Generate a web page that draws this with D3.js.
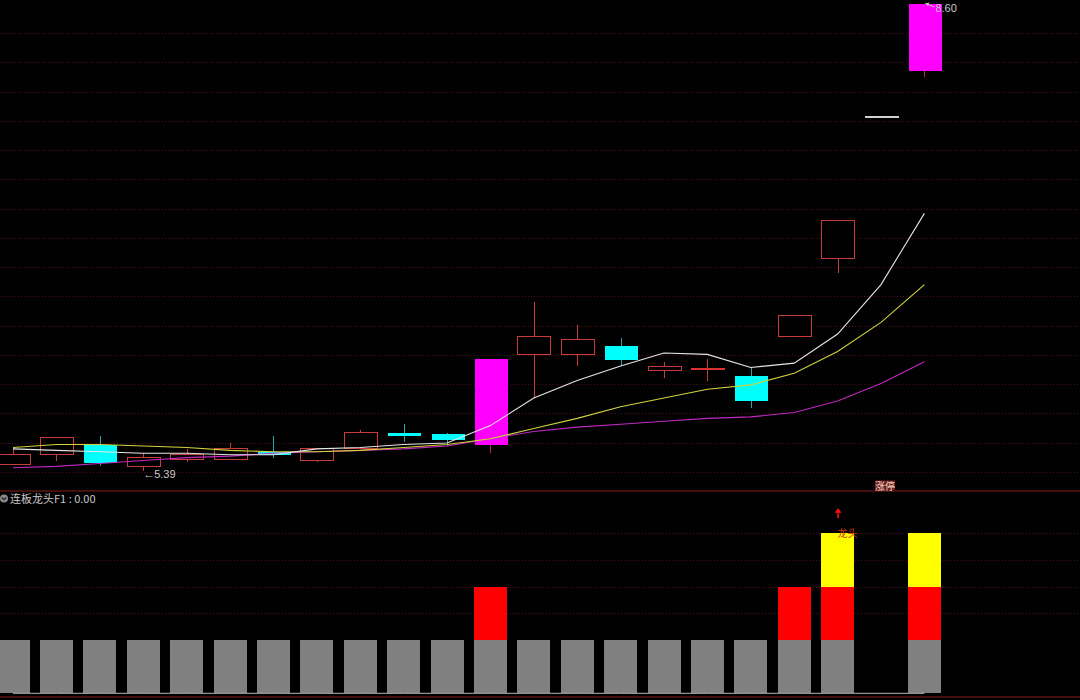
<!DOCTYPE html>
<html>
<head>
<meta charset="utf-8">
<script src="https://cdn.jsdelivr.net/npm/d3@7"></script>
<style>
  body{margin:0;background:#000;}
  text{font-family:"Liberation Sans","DejaVu Sans",sans-serif;}
  .cn{font-family:"Noto Sans CJK SC","Noto Sans",sans-serif;}
</style>
</head>
<body>
<div class="content"></div>
<script>
const SVGWIDTH = 1080;
const SVGHEIGHT = 700;

// trading days shown on screen
const days = [0,1,2,3,4,5,6,7,8,9,10,11,12,13,14,15,16,17,18,19,20,21];
const opens  = [5.43,5.50,5.57,5.42,5.47,5.47,5.52,5.46,5.54,5.65,5.64,5.57,6.19,6.19,6.25,6.08,6.09,6.04,6.31,6.85,7.82,8.14];
const highs  = [5.55,5.62,5.63,5.51,5.54,5.58,5.63,5.54,5.67,5.71,5.65,6.16,6.55,6.39,6.30,6.14,6.16,6.10,6.46,7.11,7.82,8.60];
const lows   = [5.43,5.46,5.42,5.39,5.45,5.47,5.48,5.45,5.54,5.59,5.56,5.51,5.89,6.11,6.11,6.03,6.01,5.82,6.31,6.75,7.82,8.10];
const closes = [5.50,5.62,5.44,5.48,5.50,5.54,5.50,5.54,5.65,5.63,5.60,6.16,6.31,6.29,6.15,6.11,6.09,5.87,6.46,7.11,7.82,8.60];

// moving averages
const ma5  = [5.54,5.53,5.52,5.51,5.51,5.50,5.50,5.54,5.55,5.57,5.58,5.70,5.89,6.01,6.11,6.20,6.19,6.10,6.13,6.33,6.67,7.16];
const ma10 = [5.55,5.57,5.57,5.56,5.55,5.53,5.52,5.52,5.53,5.55,5.57,5.61,5.68,5.75,5.83,5.89,5.95,5.98,6.06,6.21,6.41,6.67];
const ma20 = [5.41,5.42,5.44,5.46,5.48,5.49,5.51,5.52,5.53,5.54,5.56,5.61,5.66,5.69,5.71,5.73,5.75,5.76,5.79,5.87,5.99,6.14];

// lower indicator (stacked levels)
const baseBar   = [1,1,1,1,1,1,1,1,1,1,1,1,1,1,1,1,1,1,1,1,0,1];
const limitBar  = [0,0,0,0,0,0,0,0,0,0,0,1,0,0,0,0,0,0,1,1,0,1];
const dragonBar = [0,0,0,0,0,0,0,0,0,0,0,0,0,0,0,0,0,0,0,1,0,1];
const f1Line    = [0,0,0,0,0,0,0,0,0,0,0,0,0,0,0,0,0,0,0,0,0,0];

const highLabel = "8.60";
const lowLabel = "5.39";
const legendText = "连板龙头F1 : 0.00";
const dragonText = "龙头";
const limitText = "涨停";
const dragonDay = 19;
const limitTagDay = 20;

let svg = d3.select(".content").append("svg")
    .attr("width",SVGWIDTH).attr("height",SVGHEIGHT).attr("id","kline")
    .style("background","#000").style("display","block");

//scales
let xscale = d3.scalePoint().domain(days).range([13,924.4]);
let barW = 33;
let yscale = d3.scaleLinear().domain([5.39,8.60]).range([470.7,4]);
let ylow = d3.scaleLinear().domain([0,3]).range([693.3,533.3]);
let gridScale = d3.scaleLinear().domain([0,15]).range([33,472]);

//grid lines main panel
svg.append("g").selectAll("line")
    .data(d3.range(16))
    .join("line")
    .attr("x1",0).attr("x2",SVGWIDTH)
    .attr("y1",d=>Math.round(gridScale(d))+0.5).attr("y2",d=>Math.round(gridScale(d))+0.5)
    .attr("stroke","#4a1010").attr("stroke-dasharray","1,2");

//grid lines lower panel
svg.append("g").selectAll("line")
    .data([1.5,2,2.5,3])
    .join("line")
    .attr("x1",0).attr("x2",SVGWIDTH)
    .attr("y1",d=>Math.round(ylow(d))+0.5).attr("y2",d=>Math.round(ylow(d))+0.5)
    .attr("stroke","#4a1010").attr("stroke-dasharray","1,2");

//separator and bottom border
svg.append("line").attr("x1",0).attr("x2",SVGWIDTH).attr("y1",491).attr("y2",491)
    .attr("stroke","#5a1414").attr("stroke-width",1.5);
svg.append("line").attr("x1",0).attr("x2",SVGWIDTH).attr("y1",697).attr("y2",697)
    .attr("stroke","#5a1414").attr("stroke-width",1.5);

//candle type
function candleType(i){
    let o = opens[i], c = closes[i];
    if(i>0){
        let limit = Math.round(closes[i-1]*1.1*100)/100;
        if(c>=limit-0.005){
            if(o===c) return "flat";
            if((c-o)/o>0.05) return "big";
        }
    }
    if(c>=o) return "up";
    return "down";
}
let candles = days.map(i=>({i:i,o:opens[i],h:highs[i],l:lows[i],c:closes[i],type:candleType(i)}));
let wickColor = {up:"#c83c3c",down:"#20a8a8",big:"#b03050",flat:"#d0d0d0"};

let cg = svg.append("g").attr("id","candles").attr("shape-rendering","crispEdges");
let cand = cg.selectAll(".candle").data(candles).join("g").classed("candle",true);

//upper wick
cand.append("line")
    .attr("x1",d=>Math.round(xscale(d.i))+0.5).attr("x2",d=>Math.round(xscale(d.i))+0.5)
    .attr("y1",d=>yscale(d.h)).attr("y2",d=>yscale(Math.max(d.o,d.c)))
    .attr("stroke",d=>wickColor[d.type]);
//lower wick
cand.append("line")
    .attr("x1",d=>Math.round(xscale(d.i))+0.5).attr("x2",d=>Math.round(xscale(d.i))+0.5)
    .attr("y1",d=>yscale(Math.min(d.o,d.c))).attr("y2",d=>yscale(d.l))
    .attr("stroke",d=>wickColor[d.type]);
//bodies
cand.filter(d=>d.o!==d.c).append("rect")
    .attr("x",d=>Math.round(xscale(d.i)-barW/2)+0.5)
    .attr("y",d=>yscale(Math.max(d.o,d.c)))
    .attr("width",barW)
    .attr("height",d=>Math.abs(yscale(d.o)-yscale(d.c)))
    .attr("fill",d=>d.type==="up"?"#000":(d.type==="big"?"#ff00ff":"#00ffff"))
    .attr("stroke",d=>d.type==="up"?"#c83c3c":"none");
//open == close
cand.filter(d=>d.o===d.c).append("rect")
    .attr("x",d=>Math.round(xscale(d.i)-barW/2))
    .attr("y",d=>Math.round(yscale(d.c))-1)
    .attr("width",barW+1)
    .attr("height",2)
    .attr("fill",d=>d.type==="flat"?"#d0d0d0":"#d83232");

//moving averages
let maLine = d3.line().x((d,i)=>xscale(days[i])).y(d=>yscale(d));
[[ma20,"#c028c0"],[ma10,"#d2d23c"],[ma5,"#e6e6e6"]].forEach(m=>{
    svg.append("path").attr("d",maLine(m[0]))
        .attr("fill","none").attr("stroke",m[1]).attr("stroke-width",1.1);
});

//high / low labels
let hiIdx = highs.indexOf(d3.max(highs));
let loIdx = lows.indexOf(d3.min(lows));
svg.append("line")
    .attr("x1",xscale(hiIdx)+10).attr("y1",yscale(d3.max(highs))+3)
    .attr("x2",xscale(hiIdx)+1).attr("y2",yscale(d3.max(highs))-0.5)
    .attr("stroke","#c8c8c8");
svg.append("path")
    .attr("d",`M${xscale(hiIdx)+1},${yscale(d3.max(highs))-0.5} l4,-1 l-1.5,3.5 z`)
    .attr("fill","#c8c8c8");
svg.append("text").attr("x",xscale(hiIdx)+11).attr("y",yscale(d3.max(highs))+8)
    .attr("fill","#c8c8c8").attr("font-size",11).text(highLabel);
svg.append("text").attr("x",xscale(loIdx)).attr("y",yscale(d3.min(lows))+7)
    .attr("fill","#c8c8c8").attr("font-size",11).text("←"+lowLabel);

//lower panel stacked bars
let stackData = days.map(i=>({i:i,base:baseBar[i],limit:limitBar[i],dragon:dragonBar[i]}));
let stacked = d3.stack().keys(["base","limit","dragon"])(stackData);
let barColor = {base:"#808080",limit:"#ff0000",dragon:"#ffff00"};
svg.append("g").attr("shape-rendering","crispEdges").selectAll("g")
    .data(stacked)
    .join("g")
    .attr("fill",s=>barColor[s.key])
    .selectAll("rect")
    .data(s=>s.filter(d=>d[1]>d[0]))
    .join("rect")
    .attr("x",d=>Math.round(xscale(d.data.i)-barW/2))
    .attr("y",d=>ylow(d[1]))
    .attr("width",barW)
    .attr("height",d=>ylow(d[0])-ylow(d[1]));

//F1 line
let f1 = d3.line().x((d,i)=>xscale(days[i])).y(d=>ylow(d));
svg.append("path").attr("d",f1(f1Line)).attr("fill","none")
    .attr("stroke","#b4b4b4").attr("stroke-width",1);

//dragon head marker
let dx = xscale(dragonDay);
let dTop = ylow(baseBar[dragonDay]+limitBar[dragonDay]+dragonBar[dragonDay]);
svg.append("line").attr("x1",dx+0.5).attr("x2",dx+0.5).attr("y1",dTop-15).attr("y2",dTop-24)
    .attr("stroke","#ff1010").attr("stroke-width",1.5);
svg.append("path").attr("d",`M${dx+0.5},${dTop-25} l-3.5,4.5 l7,0 z`).attr("fill","#ff1010");
svg.append("text").attr("class","cn").attr("x",dx).attr("y",dTop+4)
    .attr("fill","#d03a10").attr("font-size",10).text(dragonText);

//limit up tag
let tx = xscale(limitTagDay)+4;
svg.append("rect").attr("x",tx-10).attr("y",480.5).attr("width",20).attr("height",10)
    .attr("fill","#6e1e1e");
svg.append("text").attr("class","cn").attr("x",tx).attr("y",489.5)
    .attr("text-anchor","middle").attr("fill","#f2d8c8").attr("font-size",10).text(limitText);

//legend
svg.append("circle").attr("cx",4).attr("cy",498.5).attr("r",4).attr("fill","#8a8a8a");
svg.append("path").attr("d","M1.8,497.5 l2.2,2.2 l2.2,-2.2").attr("fill","none")
    .attr("stroke","#222").attr("stroke-width",1.2);
svg.append("text").attr("class","cn").attr("x",10).attr("y",502.5)
    .attr("fill","#c8c8c8").attr("font-size",11).text(legendText);
</script>
</body>
</html>
